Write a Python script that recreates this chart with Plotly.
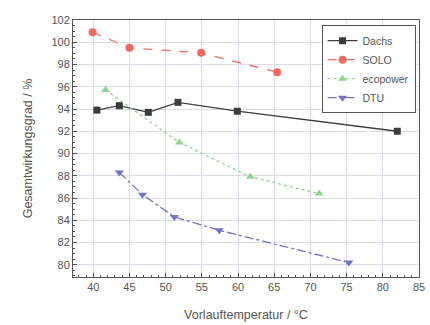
import plotly.graph_objects as go

dachs_x = [40.5, 43.6, 47.6, 51.7, 59.9, 82.0]
dachs_y = [93.9, 94.3, 93.7, 94.6, 93.8, 92.0]
solo_x = [39.9, 45.0, 54.9, 65.4]
solo_y = [100.9, 99.5, 99.05, 97.3]
eco_x = [41.7, 51.9, 61.7, 71.2]
eco_y = [95.7, 91.0, 87.9, 86.4]
dtu_x = [43.6, 46.8, 51.2, 57.4, 75.3]
dtu_y = [88.3, 86.3, 84.3, 83.1, 80.2]

fig = go.Figure()
fig.add_trace(go.Scatter(x=dachs_x, y=dachs_y, name="Dachs", mode="lines+markers",
                         line=dict(color="#3c3c3c", width=1.3, dash="solid"),
                         marker=dict(symbol="square", size=7, color="#3c3c3c")))
fig.add_trace(go.Scatter(x=solo_x, y=solo_y, name="SOLO", mode="lines+markers",
                         line=dict(color="#f06a60", width=1.3, dash="dash"),
                         marker=dict(symbol="circle", size=8, color="#f06a60")))
fig.add_trace(go.Scatter(x=eco_x, y=eco_y, name="ecopower", mode="lines+markers",
                         line=dict(color="#8fd48f", width=1.3, dash="dot"),
                         marker=dict(symbol="triangle-up", size=8, color="#8fd48f")))
fig.add_trace(go.Scatter(x=dtu_x, y=dtu_y, name="DTU", mode="lines+markers",
                         line=dict(color="#7474c4", width=1.3, dash="dashdot"),
                         marker=dict(symbol="triangle-down", size=8, color="#7474c4")))

axis_common = dict(showline=True, linecolor="#555", linewidth=1, mirror=True,
                   showgrid=True, gridcolor="#dcdce6", gridwidth=1,
                   ticks="inside", ticklen=4, tickcolor="#555", zeroline=False,
                   tickfont=dict(size=11, color="#555"),
                   minor=dict(ticks="inside", ticklen=2, tickcolor="#555", showgrid=False))

fig.update_xaxes(range=[37.2, 85], dtick=5, tick0=40,
                 title=dict(text="Vorlauftemperatur / °C", font=dict(size=12.5, color="#555"), standoff=18),
                 **axis_common)
fig.update_yaxes(range=[78.9, 102], dtick=2, tick0=80,
                 title=dict(text="Gesamtwirkungsgrad / %", font=dict(size=12.5, color="#555"), standoff=16),
                 **axis_common)

fig.update_layout(
    width=430, height=325,
    margin=dict(l=73, r=11, t=20, b=48, autoexpand=False),
    paper_bgcolor="white", plot_bgcolor="white",
    font=dict(family="Liberation Sans, Arial, sans-serif", color="#555"),
    legend=dict(x=0.99, y=0.98, xanchor="right", yanchor="top",
                bgcolor="white", bordercolor="#555", borderwidth=1,
                font=dict(size=10.5, color="#555"), tracegroupgap=0,
                itemwidth=30),
    showlegend=True,
)

fig.write_html("out.html", config={"displayModeBar": False},
               post_script="document.body.style.margin='0';document.body.style.overflow='hidden';")
